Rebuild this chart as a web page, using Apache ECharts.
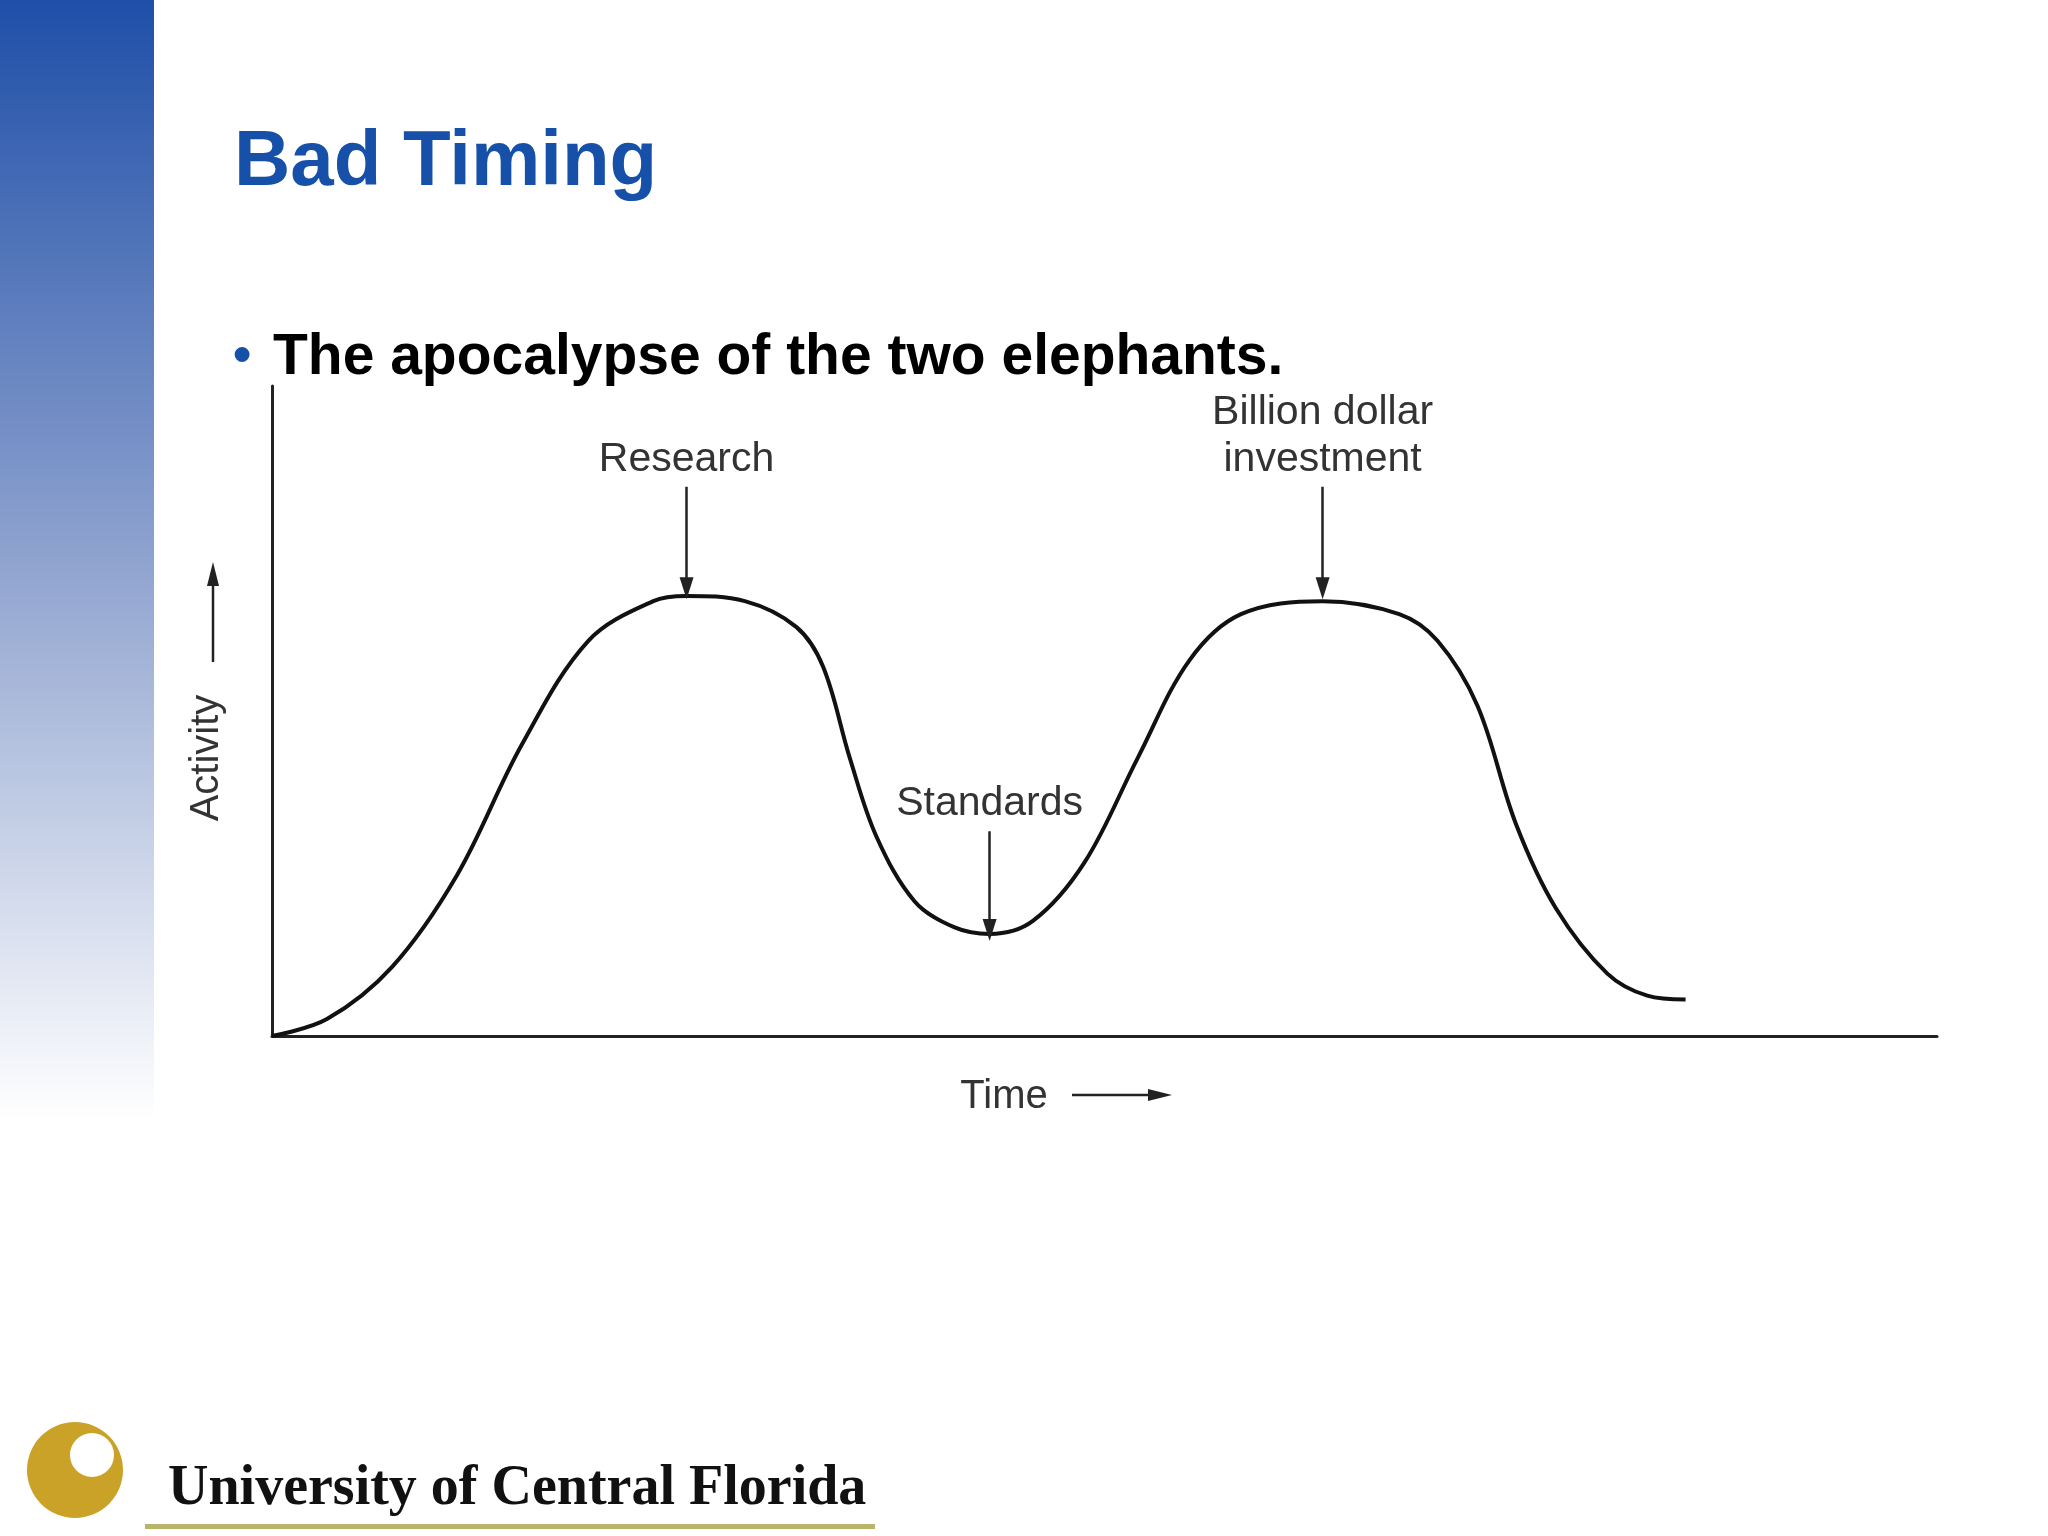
<!DOCTYPE html>
<html><head><meta charset="utf-8">
<script src="https://cdn.jsdelivr.net/npm/echarts@6/dist/echarts.min.js"></script>
<style>html,body{margin:0;padding:0;background:#fff}#c{width:2048px;height:1536px}</style>
</head><body><div id="c"></div>
<script>
const curveX = [0,3.3,7.2,11.1,15.0,19.0,22.9,24.9,28.4,31.5,33.1,34.7,36.3,38.6,41.0,43.1,45.7,48.8,52.0,55.1,58.2,63.1,67.7,70.0,72.4,74.7,77.1,80.2,82.6,84.9];
const curveY = [0,2.6,10.6,24.7,44.8,60.8,66.9,67.7,66.9,62.9,56.8,42.8,30.7,20.7,16.7,15.7,17.7,26.7,42.8,57.8,64.9,66.9,64.9,60.8,50.8,32.7,19.7,9.6,6.2,5.6];
const annotations = [
  {name:'Research', x:24.9, from:84.5, to:68.9},
  {name:'Billion dollar\ninvestment', x:63.1, from:84.5, to:68.9},
  {name:'Standards', x:43.1, from:31.5, to:16.3}
];
const chart = echarts.init(document.getElementById('c'));
const txt = '#333';
chart.setOption({
  backgroundColor:'#fff',
  animation:false,
  grid:{left:272,right:111,top:386,bottom:500},
  xAxis:{type:'value',min:0,max:100,axisLine:{lineStyle:{color:'#222',width:3}},axisTick:{show:false},axisLabel:{show:false},splitLine:{show:false}},
  yAxis:{type:'value',min:0,max:100,axisLine:{show:true,lineStyle:{color:'#222',width:3}},axisTick:{show:false},axisLabel:{show:false},splitLine:{show:false}},
  graphic:[
    {type:'rect',shape:{x:0,y:0,width:154,height:1120},style:{fill:new echarts.graphic.LinearGradient(0,0,0,1,[{offset:0,color:'#1f4fa8'},{offset:0.5,color:'#8fa3cf'},{offset:1,color:'#ffffff'}])}},
    {type:'text',left:234,top:124,style:{text:'Bad Timing',font:'bold 78px "Liberation Sans", Arial, sans-serif',fill:'#1650a8'}},
    {type:'text',left:233,top:332,style:{text:'•',font:'bold 52px "Liberation Sans", Arial, sans-serif',fill:'#1650a8'}},
    {type:'text',left:273,top:330,style:{text:'The apocalypse of the two elephants.',font:'bold 57px "Liberation Sans", Arial, sans-serif',fill:'#000'}},
    {type:'text',x:207,y:758,rotation:Math.PI/2,style:{text:'Activity',font:'40px "Liberation Sans", Arial, sans-serif',fill:txt,align:'center',verticalAlign:'middle'}},
    {type:'line',shape:{x1:213,y1:662,x2:213,y2:575},style:{stroke:'#222',lineWidth:2.5}},
    {type:'polygon',shape:{points:[[213,562],[207,586],[219,586]]},style:{fill:'#222'}},
    {type:'text',x:1004,y:1097,style:{text:'Time',font:'40px "Liberation Sans", Arial, sans-serif',fill:txt,align:'center',verticalAlign:'middle'}},
    {type:'line',shape:{x1:1072,y1:1095,x2:1160,y2:1095},style:{stroke:'#222',lineWidth:2.5}},
    {type:'polygon',shape:{points:[[1172,1095],[1148,1089],[1148,1101]]},style:{fill:'#222'}},
    {type:'circle',shape:{cx:75,cy:1470,r:48},style:{fill:'#c9a227'}},
    {type:'circle',shape:{cx:92,cy:1455,r:22},style:{fill:'#fff'}},
    {type:'text',left:168,top:1462,style:{text:'University of Central Florida',font:'bold 56px "Liberation Serif", "DejaVu Serif", serif',fill:'#111',shadowBlur:6,shadowColor:'rgba(0,0,0,0.4)',shadowOffsetY:4}},
    {type:'rect',shape:{x:145,y:1524,width:730,height:5},style:{fill:'#b8b46a'}}
  ],
  series:[{
    type:'line',smooth:0.35,symbol:'none',
    data:curveX.map((x,i)=>[x,curveY[i]]),
    lineStyle:{color:'#111',width:4},
    markLine:{
      silent:true,symbol:['none','triangle'],symbolSize:[14,22],
      lineStyle:{color:'#222',width:2.5,type:'solid'},
      label:{show:true,position:'start',formatter:p=>p.name,color:txt,fontSize:41,fontFamily:'"Liberation Sans", Arial, sans-serif',lineHeight:47,distance:4},
      data:annotations.map(a=>[{name:a.name,coord:[a.x,a.from]},{coord:[a.x,a.to]}])
    }
  }]
});
</script></body></html>
